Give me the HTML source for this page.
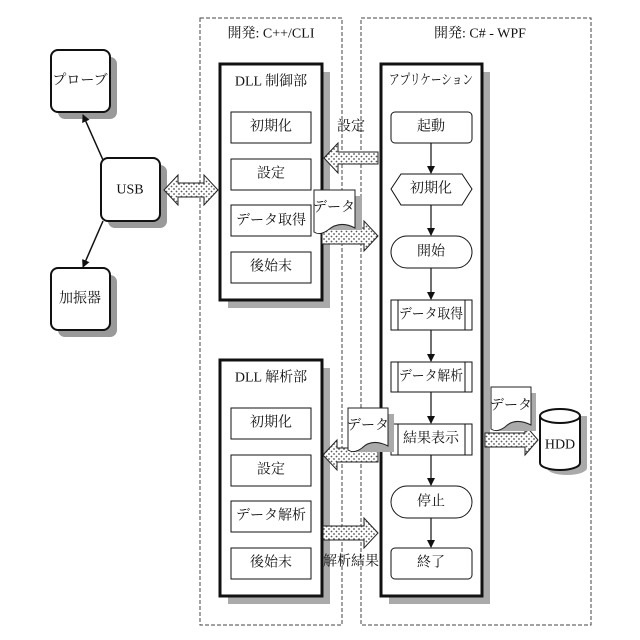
<!DOCTYPE html>
<html><head><meta charset="utf-8"><style>
html,body{margin:0;padding:0;background:#fff}
svg{display:block}
text{font-family:"Liberation Serif","Noto Serif CJK SC","Noto Sans CJK JP",serif;font-size:14px;fill:#111;text-anchor:middle;dominant-baseline:central}
</style></head><body>
<svg width="640" height="640" viewBox="0 0 640 640" xmlns="http://www.w3.org/2000/svg">
<defs>
<pattern id="dots" width="5" height="5" patternUnits="userSpaceOnUse">
<rect width="5" height="5" fill="#fff"/><circle cx="1.5" cy="1.5" r="0.9" fill="#555"/><circle cx="4" cy="4" r="0.9" fill="#555"/>
</pattern>
<marker id="ah" markerWidth="8" markerHeight="8" refX="7" refY="4" orient="auto" markerUnits="userSpaceOnUse"><path d="M0,0 L8,4 L0,8 Z" fill="#111"/></marker>
</defs>
<rect x="200" y="18" width="142" height="607" fill="none" stroke="#444" stroke-dasharray="4,2" stroke-width="1"/>
<rect x="361" y="18" width="230" height="607" fill="none" stroke="#444" stroke-dasharray="4,2" stroke-width="1"/>
<text x="271" y="34">開発: C++/CLI</text>
<text x="480" y="34">開発: C# - WPF</text>

<rect x="58" y="57" width="59" height="62" rx="7" fill="#999"/>
<rect x="51" y="50" width="59" height="62" rx="7" fill="#fff" stroke="#111" stroke-width="2"/>
<text x="80" y="81">プローブ</text>
<rect x="108" y="165" width="59" height="63" rx="7" fill="#999"/>
<rect x="101" y="158" width="59" height="63" rx="7" fill="#fff" stroke="#111" stroke-width="2"/>
<text x="130" y="190">USB</text>
<rect x="58" y="275" width="59" height="62" rx="7" fill="#999"/>
<rect x="51" y="268" width="59" height="62" rx="7" fill="#fff" stroke="#111" stroke-width="2"/>
<text x="80" y="299">加振器</text>
<line x1="103" y1="160" x2="83" y2="115" stroke="#111" stroke-width="1.5" marker-end="url(#ah)"/>
<line x1="103" y1="221" x2="83" y2="267" stroke="#111" stroke-width="1.5" marker-end="url(#ah)"/>
<path d="M164,190 L178,175 L178,183 L204,183 L204,175 L218,190 L204,205 L204,197 L178,197 L178,205 Z" fill="url(#dots)" stroke="#222" stroke-width="1"/>

<rect x="228" y="72" width="102" height="236" fill="#aaa"/>
<rect x="220" y="64" width="102" height="236" fill="#fff" stroke="#111" stroke-width="3"/>
<text x="271" y="82">DLL 制御部</text>
<g fill="#fff" stroke="#111" stroke-width="1">
<rect x="231" y="112" width="80" height="31"/><rect x="231" y="159" width="80" height="31"/><rect x="231" y="205" width="80" height="31"/><rect x="231" y="252" width="80" height="31"/>
</g>
<text x="271" y="127">初期化</text><text x="271" y="174">設定</text><text x="271" y="221">データ取得</text><text x="271" y="267">後始末</text>

<rect x="228" y="368" width="102" height="236" fill="#aaa"/>
<rect x="220" y="360" width="102" height="236" fill="#fff" stroke="#111" stroke-width="3"/>
<text x="271" y="378">DLL 解析部</text>
<g fill="#fff" stroke="#111" stroke-width="1">
<rect x="231" y="408" width="80" height="31"/><rect x="231" y="455" width="80" height="31"/><rect x="231" y="501" width="80" height="31"/><rect x="231" y="548" width="80" height="31"/>
</g>
<text x="271" y="423">初期化</text><text x="271" y="470">設定</text><text x="271" y="516">データ解析</text><text x="271" y="563">後始末</text>

<rect x="389" y="72" width="101" height="532" fill="#aaa"/>
<rect x="381" y="64" width="101" height="532" fill="#fff" stroke="#111" stroke-width="3"/>
<text x="431" y="81" textLength="84" lengthAdjust="spacingAndGlyphs">アプリケーション</text>
<g fill="#fff" stroke="#111" stroke-width="1">
<rect x="391" y="112" width="81" height="31" rx="4"/>
<path d="M391,189 L401,174 L462,174 L472,189 L462,205 L401,205 Z"/>
<rect x="391" y="236" width="81" height="32" rx="16"/>
<rect x="391" y="300" width="81" height="30"/>
<rect x="391" y="362" width="81" height="30"/>
<rect x="391" y="424" width="81" height="31"/>
<rect x="391" y="486" width="81" height="32" rx="16"/>
<rect x="391" y="548" width="81" height="31" rx="4"/>
<line x1="398" y1="300" x2="398" y2="330"/><line x1="465" y1="300" x2="465" y2="330"/>
<line x1="398" y1="362" x2="398" y2="392"/><line x1="465" y1="362" x2="465" y2="392"/>
<line x1="398" y1="424" x2="398" y2="455"/><line x1="465" y1="424" x2="465" y2="455"/>
</g>
<text x="431" y="127">起動</text><text x="431" y="189">初期化</text><text x="431" y="252">開始</text>
<text x="431" y="315" textLength="64" lengthAdjust="spacingAndGlyphs">データ取得</text><text x="431" y="377" textLength="64" lengthAdjust="spacingAndGlyphs">データ解析</text><text x="431" y="439">結果表示</text>
<text x="431" y="502">停止</text><text x="431" y="563">終了</text>
<g stroke="#111" stroke-width="1.2" marker-end="url(#ah)">
<line x1="431" y1="143" x2="431" y2="173"/><line x1="431" y1="205" x2="431" y2="235"/><line x1="431" y1="268" x2="431" y2="299"/>
<line x1="431" y1="330" x2="431" y2="361"/><line x1="431" y1="392" x2="431" y2="423"/><line x1="431" y1="455" x2="431" y2="485"/><line x1="431" y1="518" x2="431" y2="547"/>
</g>

<text x="351" y="127">設定</text>
<path d="M324,158 L338,143 L338,152 L378,152 L378,164 L338,164 L338,173 Z" fill="url(#dots)" stroke="#222" stroke-width="1"/>
<path d="M322,228 L364,228 L364,221 L378,236 L364,251 L364,244 L322,244 Z" fill="url(#dots)" stroke="#222" stroke-width="1"/>
<rect x="320" y="196" width="42" height="34" fill="#aaa"/>
<path d="M314,190 L355,190 L355,228 Q340,220 328,230 Q320,236 314,232 Z" fill="#fff" stroke="#222" stroke-width="1"/>
<text x="334" y="208">データ</text>

<path d="M323,455 L337,440 L337,448 L378,448 L378,462 L337,462 L337,470 Z" fill="url(#dots)" stroke="#222" stroke-width="1"/>
<rect x="354" y="414" width="40" height="38" fill="#aaa"/>
<path d="M348,408 L388,408 L388,446 Q372,438 362,448 Q354,454 348,450 Z" fill="#fff" stroke="#222" stroke-width="1"/>
<text x="368" y="426">データ</text>

<path d="M323,526 L364,526 L364,518 L378,533 L364,548 L364,540 L323,540 Z" fill="url(#dots)" stroke="#222" stroke-width="1"/>
<text x="351" y="562">解析結果</text>

<path d="M485,433 L525,433 L525,425 L538,440 L525,455 L525,447 L485,447 Z" fill="url(#dots)" stroke="#222" stroke-width="1"/>
<rect x="496" y="393" width="40" height="38" fill="#aaa"/>
<path d="M491,387 L531,387 L531,425 Q515,417 505,427 Q497,433 491,429 Z" fill="#fff" stroke="#222" stroke-width="1"/>
<text x="511" y="406">データ</text>
<path d="M547,416 L547,468 A20,7 0 0 0 587,468 L587,416 Z" fill="#aaa"/>
<path d="M540,416 L540,463 A20,7 0 0 0 580,463 L580,416 A20,7 0 0 0 540,416 Z" fill="#fff" stroke="#111" stroke-width="2"/>
<path d="M540,416 A20,7 0 0 0 580,416" fill="none" stroke="#111" stroke-width="2"/>
<text x="560" y="445">HDD</text>
</svg>
</body></html>
